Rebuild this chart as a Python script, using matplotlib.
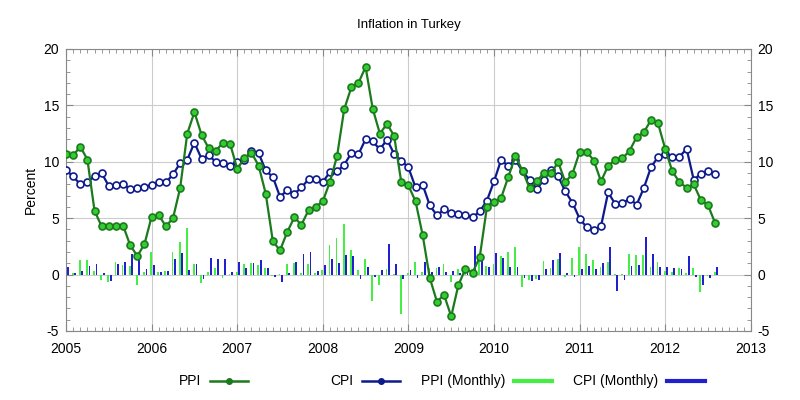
import numpy as np
import matplotlib
matplotlib.use('Agg')
import matplotlib.pyplot as plt
from matplotlib.lines import Line2D
from matplotlib.ticker import MultipleLocator

plt.rcParams['font.family'] = ['Liberation Sans', 'DejaVu Sans']
plt.rcParams['axes.unicode_minus'] = False

# monthly data, Jan 2005 .. Aug 2012 (annual rates and monthly changes, %)
ppi = [10.7, 10.56, 11.35, 10.2, 5.66, 4.27, 4.3, 4.3, 4.35, 2.6, 1.65, 2.7,
       5.13, 5.28, 4.28, 5.0, 7.67, 12.5, 14.4, 12.4, 11.2, 10.97, 11.7, 11.6,
       9.4, 10.3, 10.8, 9.67, 7.17, 2.95, 2.15, 3.75, 5.07, 4.42, 5.7, 6.0,
       6.5, 8.23, 10.5, 14.66, 16.6, 17.0, 18.4, 14.7, 12.5, 13.36, 12.3, 8.2,
       7.9, 6.5, 3.5, -0.3, -2.4, -1.8, -3.7, -0.95, 0.53, 0.18, 1.55, 5.95,
       6.4, 6.8, 8.65, 10.5, 9.2, 7.67, 8.26, 9.05, 9.0, 9.97, 8.2, 8.94,
       10.86, 10.9, 10.1, 8.26, 9.65, 10.17, 10.3, 10.97, 12.2, 12.6, 13.7, 13.4,
       11.15, 9.15, 8.2, 7.7, 8.0, 6.6, 6.15, 4.57]
cpi = [9.26, 8.7, 8.0, 8.23, 8.7, 9.0, 7.85, 7.96, 8.05, 7.55, 7.67, 7.76,
       7.96, 8.17, 8.17, 8.88, 9.88, 10.18, 11.7, 10.27, 10.56, 10.0, 9.88, 9.67,
       9.97, 10.18, 11.0, 10.77, 9.23, 8.65, 6.9, 7.46, 7.14, 7.73, 8.44, 8.44,
       8.2, 9.1, 9.15, 9.73, 10.77, 10.68, 12.0, 11.8, 11.1, 11.97, 10.7, 10.1,
       9.5, 7.73, 7.96, 6.13, 5.25, 5.78, 5.43, 5.37, 5.3, 5.07, 5.6, 6.55,
       8.26, 10.18, 9.6, 10.18, 9.15, 8.4, 7.6, 8.4, 9.3, 8.7, 7.37, 6.37,
       4.96, 4.19, 3.98, 4.28, 7.29, 6.25, 6.31, 6.73, 6.2, 7.67, 9.5, 10.44,
       10.68, 10.44, 10.44, 11.15, 8.4, 8.94, 9.15, 8.94]
ppi_monthly = [-0.4, 0.1, 1.33, 1.27, 0.3, -0.47, -0.7, 1.09, 0.86, 0.74, -0.91, 0.2,
               2.03, 0.2, 0.3, 2.03, 2.9, 4.1, 0.94, -0.77, 0.2, 0.56, -0.27, 0.05,
               0.2, 0.97, 1.03, 0.86, 0.56, -0.1, 0.05, 0.94, 1.03, 0.1, 0.97, 0.1,
               0.44, 2.6, 3.27, 4.5, 2.2, 0.38, 1.39, -2.33, -0.9, 0.5, 0.05, -3.5,
               0.1, 1.15, 0.27, 0.56, 0.56, 0.9, -0.7, 0.47, 0.56, 0.5, 1.74, 0.8,
               0.9, 1.68, 1.98, 2.45, -1.1, -0.47, -0.4, 1.2, 0.62, 1.39, -0.24, 1.45,
               2.42, 1.83, 1.3, 0.65, 1.15, 0.05, 0.05, 1.86, 1.74, 1.74, 0.7, 1.09,
               0.3, 0.2, 0.56, 0.18, 0.62, -1.5, -0.1, 0.27]
cpi_monthly = [0.65, 0.1, 0.32, 0.8, 0.97, 0.18, -0.56, 0.91, 1.09, 1.83, 1.45, 0.5,
               0.86, 0.27, 0.3, 1.42, 1.95, 0.4, 0.91, -0.38, 1.45, 1.42, 1.39, 0.27,
               1.09, 0.56, 1.03, 1.27, 0.56, -0.18, -0.7, 0.1, 1.09, 1.83, 2.03, 0.3,
               0.86, 1.36, 1.0, 1.74, 1.65, -0.38, 0.65, -0.24, 0.38, 2.7, 0.91, -0.38,
               0.38, -0.3, 1.15, 0.27, 0.7, 0.27, 0.3, 0.1, 0.5, 2.5, 1.74, 0.65,
               1.9, 1.5, 0.65, 0.7, -0.32, -0.56, -0.47, 0.5, 1.3, 1.92, 0.18, -0.24,
               0.53, 0.77, 0.5, 1.0, 2.48, -1.42, -0.47, 0.77, 0.86, 3.36, 1.86, 0.65,
               0.65, 0.62, 0.5, 1.62, -0.18, -0.9, -0.32, 0.65]
years = list(range(2005, 2014))
labels = ['PPI', 'CPI', 'PPI (Monthly)', 'CPI (Monthly)']

t = 2005 + np.arange(len(ppi)) / 12.0

dark_green = '#1b7a1b'
light_green = '#44ee44'
navy = '#0c1a8c'
bar_blue = '#2020d0'

fig = plt.figure(figsize=(8, 4), dpi=100)
ax = fig.add_axes([0.0825, 0.1725, 0.856, 0.705])

ax.bar(t - 0.006, ppi_monthly, width=0.021, color=light_green, lw=0, zorder=2)
ax.bar(t + 0.024, cpi_monthly, width=0.021, color=bar_blue, lw=0, zorder=2)
ax.plot(t, ppi, color=dark_green, lw=1.6, marker='o', ms=5, mfc='#33cc33',
        mec=dark_green, mew=1.2, zorder=4)
ax.plot(t, cpi, color=navy, lw=1.6, marker='o', ms=5, mfc='white',
        mec=navy, mew=1.2, zorder=3)

ax.set_xlim(2005, 2013)
ax.set_ylim(-5, 20)
ax.set_xticks(years)
ax.set_xticklabels([str(y) for y in years])
ax.xaxis.set_minor_locator(MultipleLocator(1 / 12.0))
ax.yaxis.set_major_locator(MultipleLocator(5))
ax.yaxis.set_minor_locator(MultipleLocator(1))
ax.grid(True, which='major', color='#cccccc', lw=0.8, zorder=0)
ax.set_axisbelow(True)
ax.tick_params(which='both', direction='in', top=True, right=True,
               labelright=True, color='#888888', labelsize=10, pad=5)
ax.tick_params(axis='x', pad=8)
ax.tick_params(which='major', length=5)
ax.tick_params(which='minor', length=3)
for s in ax.spines.values():
    s.set_color('#888888')

ax.set_ylabel('Percent', fontsize=10, labelpad=4)
ax.set_title('Inflation in Turkey', fontsize=9.5, pad=15)

# legend laid out like the original: text right-aligned before each sample
handles = [
    dict(color=dark_green, lw=1.8, marker='o', ms=4, mfc=dark_green, mec=dark_green, markevery=[1]),
    dict(color=navy, lw=1.8, marker='o', ms=4, mfc=navy, mec=navy, markevery=[1]),
    dict(color=light_green, lw=3),
    dict(color=bar_blue, lw=3),
]
starts = [210, 362, 514, 667]
ly = 1 - 381 / 400.0
for lab, st, kw in zip(labels, starts, handles):
    x0 = st / 800.0
    x1 = (st + 38) / 800.0
    fig.add_artist(Line2D([x0, (x0 + x1) / 2, x1], [ly, ly, ly],
                          transform=fig.transFigure, **kw))
    fig.text(x0 - 9 / 800.0, ly, lab, ha='right', va='center', fontsize=10)

fig.savefig('out.png', dpi=100)
